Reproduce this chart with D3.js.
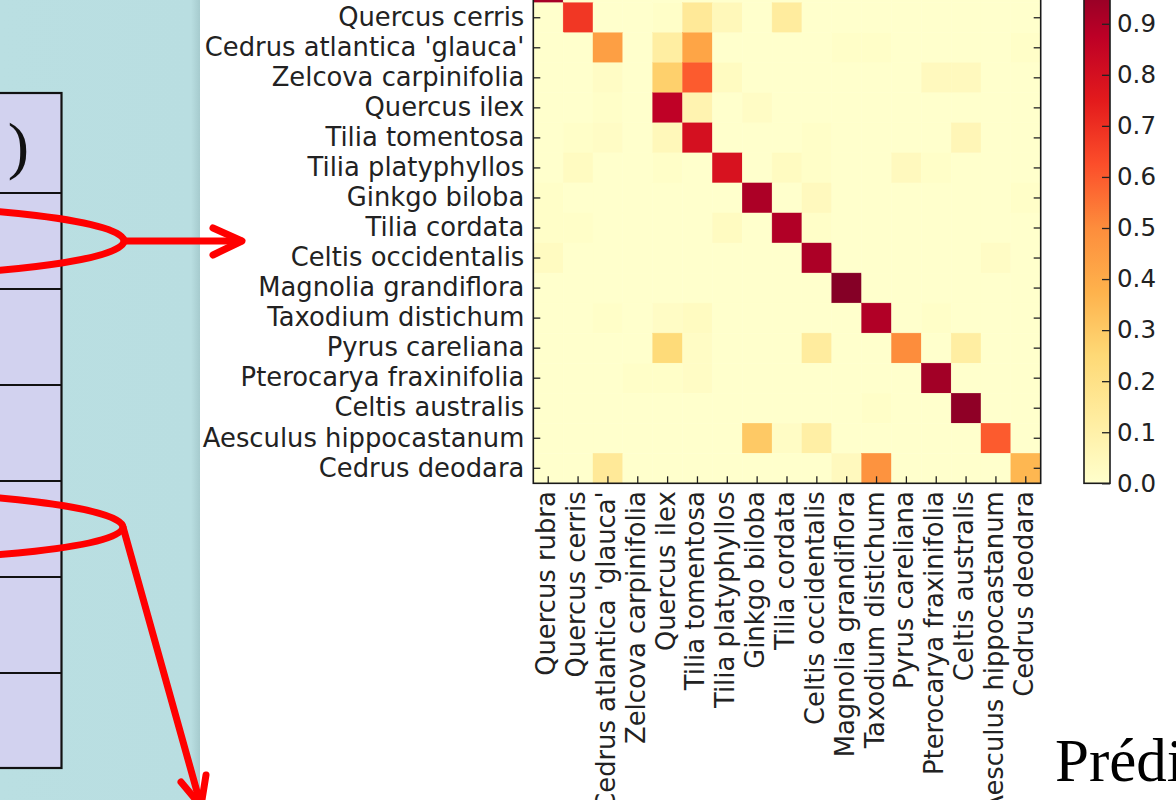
<!DOCTYPE html>
<meta charset="utf-8">
<style>
    body {
        margin: 0;
        background: #fff;
        overflow: hidden;
    }

    svg {
        display: block;
    }

    .tick text {
        font-family: "DejaVu Sans";
        font-size: 25.8px;
        fill: #222;
    }

    .cbar .tick text {
        font-size: 24.5px;
    }

    .tick line {
        stroke: #222;
        stroke-width: 1.3px;
    }
</style>
<svg width="1176" height="800"></svg>
<script src="https://d3js.org/d3.v7.min.js"></script>
<script>
    // classes, same order on both axes
    var species = ["Quercus rubra", "Quercus cerris", "Cedrus atlantica 'glauca'", "Zelcova carpinifolia",
        "Quercus ilex", "Tilia tomentosa", "Tilia platyphyllos", "Ginkgo biloba", "Tilia cordata",
        "Celtis occidentalis", "Magnolia grandiflora", "Taxodium distichum", "Pyrus careliana",
        "Pterocarya fraxinifolia", "Celtis australis", "Aesculus hippocastanum", "Cedrus deodara"];

    // rows = true class, cols = predicted class (normalised)
    var confusion = [
        [0.92, 0, 0, 0, 0, 0, 0, 0, 0, 0, 0, 0, 0, 0, 0, 0, 0],
        [0, 0.68, 0, 0, 0.01, 0.15, 0.05, 0, 0.13, 0, 0, 0, 0, 0, 0, 0, 0],
        [0, 0, 0.44, 0, 0.12, 0.42, 0, 0, 0, 0, 0.01, 0.01, 0, 0, 0, 0, 0.01],
        [0, 0, 0.02, 0, 0.28, 0.6, 0.03, 0, 0, 0, 0, 0, 0, 0.04, 0.04, 0, 0],
        [0, 0, 0.01, 0, 0.87, 0.08, 0, 0.02, 0, 0, 0, 0, 0, 0, 0, 0, 0],
        [0, 0.01, 0.02, 0, 0.05, 0.8, 0, 0, 0, 0.01, 0, 0, 0, 0, 0.06, 0, 0],
        [0, 0.03, 0, 0, 0.01, 0, 0.79, 0, 0.03, 0.01, 0, 0, 0.04, 0.01, 0, 0, 0],
        [0.01, 0, 0, 0, 0, 0, 0, 0.91, 0, 0.04, 0, 0, 0, 0, 0, 0, 0.01],
        [0.01, 0.01, 0, 0, 0, 0, 0.03, 0, 0.9, 0.01, 0, 0, 0, 0, 0, 0, 0],
        [0.03, 0, 0, 0, 0, 0, 0, 0, 0, 0.91, 0, 0, 0, 0, 0, 0.02, 0],
        [0, 0, 0, 0, 0, 0, 0, 0, 0, 0, 0.99, 0, 0, 0, 0, 0, 0],
        [0, 0, 0.01, 0, 0.02, 0.03, 0, 0, 0, 0, 0, 0.9, 0, 0.01, 0, 0, 0],
        [0, 0, 0, 0, 0.24, 0.02, 0, 0, 0, 0.13, 0, 0, 0.5, 0, 0.12, 0, 0],
        [0, 0, 0, 0.01, 0.01, 0.02, 0, 0, 0, 0, 0, 0, 0, 0.93, 0, 0, 0],
        [0, 0, 0, 0, 0, 0, 0, 0, 0, 0, 0, 0.01, 0, 0, 0.97, 0, 0],
        [0, 0, 0, 0, 0, 0, 0, 0.3, 0.02, 0.11, 0, 0, 0, 0, 0, 0.6, 0],
        [0, 0, 0.15, 0, 0, 0, 0, 0, 0, 0, 0.04, 0.48, 0, 0, 0, 0, 0.36]
    ];

    var barTicks = [0, 0.1, 0.2, 0.3, 0.4, 0.5, 0.6, 0.7, 0.8, 0.9];

    // matplotlib YlOrRd anchors
    var ylorrd = ["#ffffcc", "#ffeda0", "#fed976", "#feb24c", "#fd8d3c", "#fc4e2a", "#e31a1c", "#bd0026", "#800026"];

    var svg = d3.select("svg"),
        width = +svg.attr("width"),
        height = +svg.attr("height");

    var color = d3.scaleLinear()
        .domain(ylorrd.map(function (d, i) { return i / (ylorrd.length - 1); }))
        .range(ylorrd)
        .clamp(true);

    var defs = svg.append("defs");

    // ---- left slide panel (decoration) ----
    var shade = defs.append("linearGradient").attr("id", "panelShade")
        .attr("x1", 0).attr("x2", 1).attr("y1", 0).attr("y2", 0);
    shade.append("stop").attr("offset", "0").attr("stop-color", "#badfe2");
    shade.append("stop").attr("offset", "0.955").attr("stop-color", "#b9dee1");
    shade.append("stop").attr("offset", "1").attr("stop-color", "#a6cbce");

    svg.append("rect")
        .attr("x", 0).attr("y", 0).attr("width", 200).attr("height", height)
        .attr("fill", "url(#panelShade)");

    var tableLines = [93, 193, 289, 385, 481, 577, 673, 768];
    var table = svg.append("g");
    table.append("rect")
        .attr("x", -10).attr("y", 93).attr("width", 71.5).attr("height", 768 - 93)
        .attr("fill", "#d2d2ef")
        .attr("stroke", "#111").attr("stroke-width", 2.2);
    table.selectAll("line").data(tableLines).enter().append("line")
        .attr("x1", -10).attr("x2", 61.5)
        .attr("y1", function (d) { return d; }).attr("y2", function (d) { return d; })
        .attr("stroke", "#111").attr("stroke-width", 2.2);

    var paren = table.append("text")
        .attr("x", 29).attr("y", 167)
        .attr("text-anchor", "end")
        .style("font-family", "Liberation Serif")
        .style("font-size", "64px")
        .attr("fill", "#111");
    paren.append("tspan").text("s");
    paren.append("tspan").attr("dx", 6).text(")");

    // ---- heatmap ----
    var x = d3.scaleBand().domain(species).range([533.3, 1040.7]);
    var y = d3.scaleBand().domain(species).range([-27.3, 483.3]);

    var cells = [];
    confusion.forEach(function (row, i) {
        row.forEach(function (v, j) {
            cells.push({ r: species[i], c: species[j], v: v });
        });
    });

    svg.append("g")
        .selectAll("rect")
        .data(cells)
        .enter().append("rect")
        .attr("x", function (d) { return x(d.c); })
        .attr("y", function (d) { return y(d.r); })
        .attr("width", x.bandwidth())
        .attr("height", y.bandwidth())
        .attr("fill", function (d) { return color(d.v); })
        .attr("stroke", function (d) { return color(d.v); })
        .attr("stroke-width", 0.4);

    svg.append("g")
        .attr("transform", "translate(533.3,0)")
        .call(d3.axisLeft(y).tickSize(-7).tickPadding(9));

    svg.append("g")
        .attr("transform", "translate(1040.7,0)")
        .call(d3.axisRight(y).tickSize(-7).tickFormat(""));

    svg.append("g")
        .attr("transform", "translate(0,-27.3)")
        .call(d3.axisTop(x).tickSize(-7).tickFormat(""));

    var gBottom = svg.append("g")
        .attr("transform", "translate(0,483.3)")
        .call(d3.axisBottom(x).tickSize(-7).tickPadding(9));

    gBottom.selectAll("text")
        .attr("transform", "rotate(-90)")
        .attr("x", -8)
        .attr("y", -2)
        .attr("dy", "0.35em")
        .style("text-anchor", "end");

    svg.selectAll(".domain").remove();

    svg.append("rect")
        .attr("x", 533.3).attr("y", -27.3)
        .attr("width", 1040.7 - 533.3).attr("height", 483.3 + 27.3)
        .attr("fill", "none")
        .attr("stroke", "#1a1a1a").attr("stroke-width", 1.6);

    // ---- colorbar ----
    var cb = d3.scaleLinear().domain([0, 1]).range([483.3, -27.3]);

    var grad = defs.append("linearGradient").attr("id", "cbar")
        .attr("x1", 0).attr("x2", 0).attr("y1", 1).attr("y2", 0);
    grad.selectAll("stop").data(ylorrd).enter().append("stop")
        .attr("offset", function (d, i) { return i / (ylorrd.length - 1); })
        .attr("stop-color", function (d) { return d; });

    svg.append("rect")
        .attr("x", 1084).attr("y", cb(1))
        .attr("width", 26).attr("height", cb(0) - cb(1))
        .attr("fill", "url(#cbar)")
        .attr("stroke", "#1a1a1a").attr("stroke-width", 1.6);

    svg.append("g")
        .attr("class", "cbar")
        .attr("transform", "translate(1110,0)")
        .call(d3.axisRight(cb).tickValues(barTicks).tickFormat(d3.format(".1f")).tickSize(-8).tickPadding(7))
        .select(".domain").remove();

    // ---- red annotation strokes ----
    var red = svg.append("g")
        .attr("fill", "none")
        .attr("stroke", "#ff0000")
        .attr("stroke-width", 7)
        .attr("stroke-linecap", "round")
        .attr("stroke-linejoin", "round");

    red.append("ellipse").attr("cx", -176).attr("cy", 241).attr("rx", 300).attr("ry", 36);
    red.append("ellipse").attr("cx", -177).attr("cy", 525).attr("rx", 300).attr("ry", 35)
        .attr("transform", "rotate(0.4,-177,525)");

    var line = d3.line();
    red.append("path").attr("d", line([[124, 241], [241, 241]]));
    red.append("path").attr("d", line([[213, 228], [242, 241], [213, 255]]));
    red.append("path").attr("d", line([[123, 527], [201, 806]]));
    red.append("path").attr("d", line([[181, 782], [201, 806], [206, 775]]));

    // ---- slide caption (cut off) ----
    svg.append("text")
        .attr("x", 1055).attr("y", 781)
        .style("font-family", "Liberation Serif")
        .style("font-size", "61px")
        .attr("fill", "#000")
        .text("Prédictions");
</script>
